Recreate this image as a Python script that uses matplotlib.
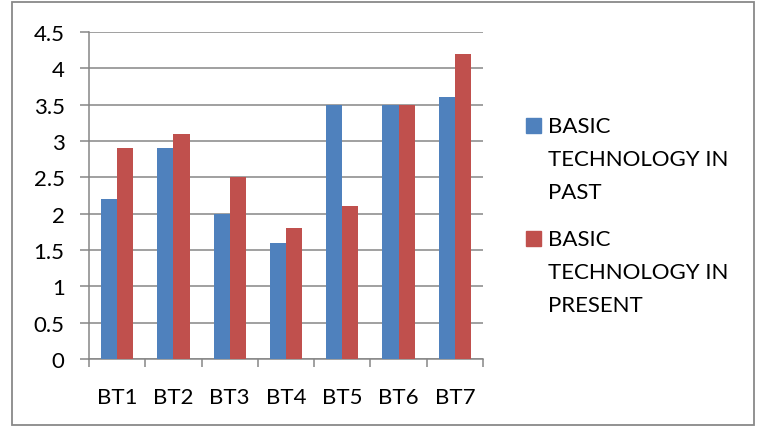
import matplotlib.pyplot as plt
import matplotlib.patches as mpatches
import numpy as np

categories = ["BT1", "BT2", "BT3", "BT4", "BT5", "BT6", "BT7"]
past = [2.2, 2.9, 2.0, 1.6, 3.5, 3.5, 3.6]
present = [2.9, 3.1, 2.5, 1.8, 2.1, 3.5, 4.2]
series_names = ["BASIC\nTECHNOLOGY IN\nPAST", "BASIC\nTECHNOLOGY IN\nPRESENT"]
colors = ["#4F81BD", "#C0504D"]
yticks = [0, 0.5, 1, 1.5, 2, 2.5, 3, 3.5, 4, 4.5]

plt.rcParams['font.family'] = ['Lato', 'DejaVu Sans']
grid_col = "#868686"

W, H = 760, 427
fig = plt.figure(figsize=(W / 100, H / 100), dpi=100)
fig.patch.set_facecolor("white")

# plot area in pixel coords: x 89..483, y 33..360
ax = fig.add_axes([89 / W, (H - 360) / H, (483 - 89) / W, (360 - 33) / H])

x = np.arange(len(categories))
w = 1 / 3.5  # gap width 150%
ax.bar(x - w / 2, past, w, color=colors[0], zorder=3)
ax.bar(x + w / 2, present, w, color=colors[1], zorder=3)

ax.set_xlim(-0.5, len(categories) - 0.5)
ax.set_ylim(0, 4.5)
ax.set_yticks(yticks)
ax.set_yticklabels([f"{t:g}" for t in yticks])
ax.yaxis.grid(True, color=grid_col, lw=1.1, zorder=0)

# category labels centred, tick marks on the category boundaries
ax.set_xticks(x)
ax.set_xticklabels(categories)
ax.set_xticks(np.arange(len(categories) + 1) - 0.5, minor=True)
ax.tick_params(axis="x", which="major", length=0, pad=20, labelsize=16)
ax.tick_params(axis="x", which="minor", length=6, width=1.1, color=grid_col)
ax.tick_params(axis="y", length=6.5, width=1.1, color=grid_col, pad=11, labelsize=16)

for side in ["top", "right"]:
    ax.spines[side].set_visible(False)
for side in ["left", "bottom"]:
    ax.spines[side].set_color(grid_col)
    ax.spines[side].set_linewidth(1.1)

# legend on the right, one square and a block of text per series
leg_tops = [119, 232]
for name, col, top in zip(series_names, colors, leg_tops):
    fig.patches.append(mpatches.Rectangle((526 / W, (H - top - 15) / H), 15 / W, 15 / H,
                                          transform=fig.transFigure, color=col))
    for i, line in enumerate(name.split("\n")):
        fig.text(548 / W, (H - (top + 14) - i * 33) / H, line, fontsize=16,
                 va="baseline", ha="left")

# outer chart border
fig.patches.append(mpatches.Rectangle((12 / W, 1 - 426 / H), (754 - 12) / W, (426 - 3) / H,
                                      transform=fig.transFigure, fill=False,
                                      edgecolor="#898989", lw=1.3))

fig.savefig("out.png", dpi=100)
